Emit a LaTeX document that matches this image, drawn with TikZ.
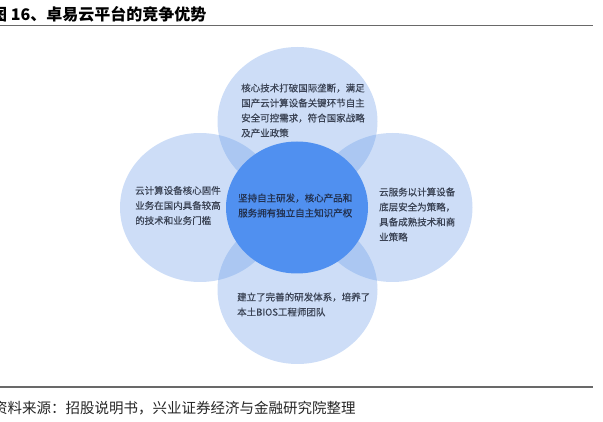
\documentclass[tikz,border=0pt]{standalone}
\usepackage{fontspec}
\setmainfont{Noto Sans CJK SC}
\newfontfamily\petalfont[FakeBold=0.4]{Noto Sans CJK SC}
\usetikzlibrary{shapes.geometric, positioning}
\definecolor{petalblue}{RGB}{102, 153, 231}
\definecolor{coreblue}{RGB}{80, 144, 240}
\definecolor{inkgray}{RGB}{58, 66, 84}
\definecolor{coreink}{RGB}{34, 48, 78}
\definecolor{rulegray}{RGB}{105, 105, 105}
\tikzset{
  petal/.style={ellipse, fill=petalblue, fill opacity=0.33, minimum width=160pt, minimum height=149pt, inner sep=0pt},
  core/.style={ellipse, fill=coreblue, minimum width=142pt, minimum height=132pt, inner sep=0pt},
  petaltext/.style={anchor=west, align=left, inner sep=0pt, text=inkgray, font=\petalfont\fontsize{9.5}{15}\selectfont},
  coretext/.style={petaltext, text=coreink},
  captiontext/.style={anchor=base west, inner sep=0pt, font=\fontsize{16}{18}\selectfont\bfseries},
  sourcetext/.style={anchor=base west, inner sep=0pt, text=black!85, font=\fontsize{14.5}{16}\selectfont},
  hrule/.style={draw=rulegray, line width=1.2pt}
}

\begin{document}
\begin{tikzpicture}[x=1pt, y=-1pt]
    \useasboundingbox (0, 0) rectangle (603, 422);

    % Title and rule
    \node[captiontext] (title) at (-9, 20.5) {图 16、卓易云平台的竞争优势};
    \draw[hrule] (0, 25.5) -- (593, 25.5);

    % Four outer circles
    \node[petal] (top) at (297.5, 121.5) {};
    \node[petal] (left) at (200, 207.5) {};
    \node[petal] (right) at (392.5, 207.5) {};
    \node[petal] (bottom) at (297.5, 289.5) {};

    % Centre circle
    \node[core] (core) at (297, 207.5) {};

    % Texts
    \node[petaltext] (toptext) at (241, 110.5) {核心技术打破国际垄断，满足\\国产云计算设备关键环节自主\\安全可控需求，符合国家战略\\及产业政策};
    \node[petaltext] (lefttext) at (135, 205.5) {云计算设备核心固件\\业务在国内具备较高\\的技术和业务门槛};
    \node[coretext] (coretext) at (238, 205.5) {坚持自主研发，核心产品和\\服务拥有独立自主知识产权};
    \node[petaltext] (righttext) at (379, 214.5) {云服务以计算设备\\底层安全为策略，\\具备成熟技术和商\\业策略};
    \node[petaltext] (bottomtext) at (237, 304.5) {建立了完善的研发体系，培养了\\本土BIOS工程师团队};

    % Source and rule
    \draw[hrule] (0, 387) -- (593, 387);
    \node[sourcetext] (source) at (-7, 413) {资料来源：招股说明书，兴业证券经济与金融研究院整理};
\end{tikzpicture}
\end{document}
